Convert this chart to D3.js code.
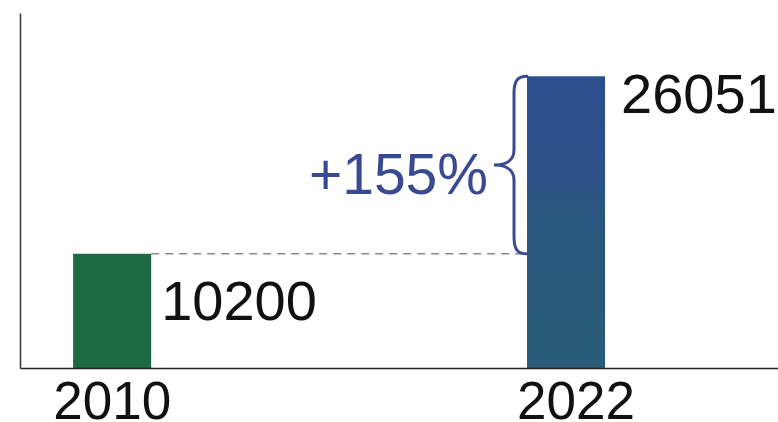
<!DOCTYPE html>
<html>
<head>
<meta charset="utf-8">
<script src="https://cdn.jsdelivr.net/npm/d3@7"></script>
<style>
  body { margin: 0; background: #fff; }
  svg { display: block; font-family: "Liberation Sans", Arial, sans-serif; }
</style>
</head>
<body>
<div id="chart"></div>
<script>
// data
var years = ["2010", "2022"];
var values = [10200, 26051];
var changeLabel = "+155%";

var svgWidth = 778;
var svgHeight = 422;

// plot area edges (axis lines)
var plotLeft = 20, plotRight = 778, plotTop = 13, plotBottom = 368;

var svg = d3.select("#chart").append("svg")
    .attr("width", svgWidth)
    .attr("height", svgHeight);

var defs = svg.append("defs");
var grad = defs.append("linearGradient")
    .attr("id", "blueGrad")
    .attr("x1", 0).attr("y1", 0).attr("x2", 0).attr("y2", 1);
grad.append("stop").attr("offset", "0%").attr("stop-color", "#2c4e8d");
grad.append("stop").attr("offset", "35%").attr("stop-color", "#2d5188");
grad.append("stop").attr("offset", "45%").attr("stop-color", "#2b577f");
grad.append("stop").attr("offset", "100%").attr("stop-color", "#2a5c77");

var barColors = ["#1c6a41", "url(#blueGrad)"];

var xScale = d3.scaleBand()
    .domain(years)
    .range([plotLeft, plotRight])
    .paddingInner(0.828)
    .paddingOuter(0.249)
    .align(0.235);

// axis top has no tick; it sits a bit above the biggest bar
var yScale = d3.scaleLinear()
    .domain([0, 31700])
    .range([plotBottom, plotTop]);

// y axis
svg.append("g")
    .attr("class", "y-axis")
    .attr("transform", `translate(${plotLeft},0)`)
    .call(d3.axisLeft(yScale).tickValues([]).tickSizeOuter(0))
    .select(".domain")
    .attr("stroke", "#333")
    .attr("stroke-width", 1.5);

// dashed reference line from the first bar to the second
var y0 = yScale(values[0]);
svg.append("line")
    .attr("x1", xScale(years[0]) + xScale.bandwidth())
    .attr("x2", xScale(years[1]))
    .attr("y1", y0)
    .attr("y2", y0)
    .attr("stroke", "#8a8a8a")
    .attr("stroke-width", 1.3)
    .attr("stroke-dasharray", "8,6");

// bars
svg.selectAll("rect.bar")
    .data(values)
    .enter()
    .append("rect")
    .attr("class", "bar")
    .attr("x", function (d, i) { return xScale(years[i]); })
    .attr("y", function (d) { return yScale(d); })
    .attr("width", xScale.bandwidth())
    .attr("height", function (d) { return plotBottom - yScale(d); })
    .attr("fill", function (d, i) { return barColors[i]; });

// value labels (second one sits near the bar top, first one lower down)
var labelDy = [66, 37];
var labelDx = [10, 16];
svg.selectAll("text.value")
    .data(values)
    .enter()
    .append("text")
    .attr("class", "value")
    .attr("x", function (d, i) { return xScale(years[i]) + xScale.bandwidth() + labelDx[i]; })
    .attr("y", function (d, i) { return yScale(d) + labelDy[i]; })
    .attr("font-size", "56px")
    .attr("fill", "#111")
    .text(function (d) { return d; });

// x axis
var xAxisG = svg.append("g")
    .attr("class", "x-axis")
    .attr("transform", `translate(0,${plotBottom})`)
    .call(d3.axisBottom(xScale).tickSize(0).tickPadding(13));
xAxisG.select(".domain")
    .attr("stroke", "#222")
    .attr("stroke-width", 1.5);
xAxisG.selectAll("text")
    .attr("font-size", "53px")
    .attr("font-family", "Liberation Sans, Arial, sans-serif")
    .attr("fill", "#111")
    .attr("dx", function (d, i) { return i === 1 ? 10 : 0; });

// curly brace between the two values
var bx = xScale(years[1]);
var yT = yScale(values[1]);
var yB = yScale(values[0]);
var yM = (yT + yB) / 2;
var spine = bx - 13;
var tip = bx - 33;
var brace = d3.path();
brace.moveTo(bx, yT);
brace.bezierCurveTo(bx - 10, yT, spine, yT + 5, spine, yT + 17);
brace.lineTo(spine, yM - 15);
brace.bezierCurveTo(spine, yM - 4, spine - 9, yM, tip, yM);
brace.bezierCurveTo(spine - 9, yM, spine, yM + 4, spine, yM + 15);
brace.lineTo(spine, yB - 17);
brace.bezierCurveTo(spine, yB - 5, bx - 10, yB, bx, yB);

svg.append("path")
    .attr("d", brace.toString())
    .attr("fill", "none")
    .attr("stroke", "#3a4a92")
    .attr("stroke-width", 3)
    .attr("stroke-linecap", "round");

svg.append("text")
    .attr("x", tip - 6)
    .attr("y", yM + 29)
    .attr("text-anchor", "end")
    .attr("font-size", "57px")
    .attr("fill", "#3a4a92")
    .text(changeLabel);
</script>
</body>
</html>
